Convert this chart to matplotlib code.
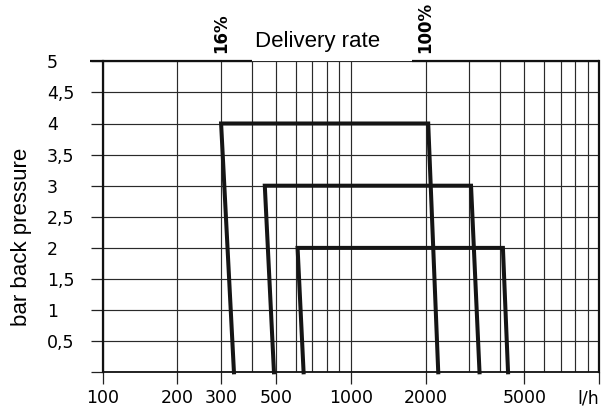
import matplotlib
matplotlib.use("Agg")
import matplotlib.pyplot as plt
import numpy as np

# ---- data ----
pressure_levels = [4, 3, 2]          # bar
q_min_top = [300, 450, 610]          # l/h at top-left corner
q_min_bottom = [338, 490, 645]       # l/h at bottom-left
q_max_top = [2050, 3050, 4100]       # l/h at top-right corner
q_max_bottom = [2250, 3300, 4300]    # l/h at bottom-right

x_tick_vals = [100, 200, 300, 500, 1000, 2000, 5000, 10000]
x_tick_labels = ["100", "200", "300", "500", "1000", "2000", "5000", "l/h"]
x_grid_vals = [100, 200, 300, 400, 500, 600, 700, 800, 900, 1000,
               2000, 3000, 4000, 5000, 6000, 7000, 8000, 9000, 10000]
y_tick_vals = [0, 0.5, 1, 1.5, 2, 2.5, 3, 3.5, 4, 4.5, 5]
y_tick_labels = ["", "0,5", "1", "1,5", "2", "2,5", "3", "3,5", "4", "4,5", "5"]

pct_marks = [300, 2000]
pct_labels = ["16%", "100%"]

W, H = 605, 413
fig = plt.figure(figsize=(W / 100, H / 100), dpi=100)
ax = fig.add_axes([102.7 / W, 1 - 372.3 / H, (599 - 102.7) / W, (372.3 - 61.3) / H])

ax.set_xscale("log")
ax.set_xlim(100, 10000)
ax.set_ylim(0, 5)

grid_col = "#2a2a2a"
ax.set_xticks(x_tick_vals)
ax.set_xticks(x_grid_vals, minor=True)
ax.set_xticklabels(x_tick_labels, fontsize=12.5, family="DejaVu Sans")
ax.set_yticks(y_tick_vals)
ax.set_yticklabels(y_tick_labels, fontsize=12.5, family="DejaVu Sans", ha="left")
ax.xaxis.set_minor_formatter(matplotlib.ticker.NullFormatter())

ax.tick_params(axis="x", which="major", direction="out", length=8.6, width=0.9,
               color="#222222", pad=3.5)
ax.tick_params(axis="x", which="minor", length=0)
ax.tick_params(axis="y", which="major", direction="out", length=8.6, width=0.9,
               color="#222222", pad=31.5)
for lbl in ax.get_xticklabels():
    if lbl.get_text() == "l/h":
        lbl.set_ha("right")

ax.grid(True, which="both", axis="x", color=grid_col, lw=0.85)
ax.grid(True, which="major", axis="y", color=grid_col, lw=0.85)
ax.set_axisbelow(True)

for s in ["left", "right"]:
    ax.spines[s].set_linewidth(1.6)
    ax.spines[s].set_color("#111111")
ax.spines["bottom"].set_linewidth(1.3)
ax.spines["bottom"].set_color("#111111")
ax.spines["top"].set_visible(False)

# top border with a gap around the title text
trans = ax.get_xaxis_transform()
ax.plot([10 ** (2 - 12.7 / 248.15), 400], [1, 1], transform=trans, color="#111111",
        lw=1.6, clip_on=False, solid_capstyle="butt", zorder=5)
ax.plot([1760, 10000], [1, 1], transform=trans, color="#111111",
        lw=1.6, clip_on=False, solid_capstyle="butt", zorder=5)

# trapezoid curves
for p, a, b, c, d in zip(pressure_levels, q_min_bottom, q_min_top, q_max_top, q_max_bottom):
    ax.plot([a, b, c, d], [0, p, p, 0], color="#151515", lw=2.9,
            solid_joinstyle="miter", zorder=4, clip_on=False)

# percent annotations
for xv, txt in zip(pct_marks, pct_labels):
    ax.annotate(txt, xy=(xv, 1), xycoords=trans, xytext=(0, 6), textcoords="offset points",
                rotation=90, ha="center", va="bottom", fontsize=12, fontweight="bold",
                family="DejaVu Sans")

fig.text(317.5 / W, 1 - 46.7 / H, "Delivery rate", ha="center", va="baseline",
         fontsize=16, family="Liberation Sans")
fig.text(22 / W, 1 - 236.7 / H, "bar back pressure", ha="center", va="center",
         rotation=90, fontsize=16, family="Liberation Sans")

fig.savefig("out.png", dpi=100)
